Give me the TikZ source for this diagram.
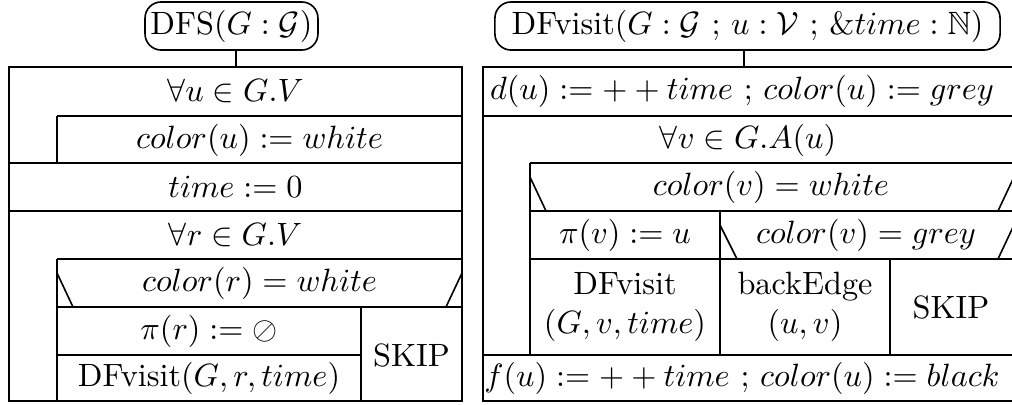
\documentclass[tikz,border=0pt]{standalone}
\usepackage{amssymb}
\begin{document}
\begin{tikzpicture}[x=0.31pt,y=-0.31pt,line width=0.5pt,
  title/.style={draw,rounded corners=5pt,minimum height=14.9pt,inner sep=1.5pt},
  cell/.style={inner sep=0pt,align=center}]
\useasboundingbox (0,0) rectangle (1012,405);
% ---------- left structogram ----------
\node[title,minimum width=53.6pt] (t1) at (231.5,26) {DFS$(G:\mathcal{G})$};
\coordinate (c1) at (236,67);
\draw (t1.south -| c1) -- (c1);
\draw (9,67) rectangle (462,401);
\draw (57,116) -- (462,116);
\draw (57,116) -- (57,163);
\draw (9,163) -- (462,163);
\draw (9,211) -- (462,211);
\draw (57,259) -- (462,259);
\draw (57,259) -- (57,401);
\draw (57,307) -- (462,307);
\draw (57,355) -- (361,355);
\draw (361,307) -- (361,401);
\draw (57,273) -- (73,307);
\draw (462,273) -- (446,307);
\node[cell] (l1) at (235.5,91) {$\forall u \in G.V$};
\node[cell] (l2) at (259.5,140) {$color(u) := white$};
\node[cell] (l3) at (235.5,187) {$time := 0$};
\node[cell] (l4) at (235.5,235) {$\forall r \in G.V$};
\node[cell] (l5) at (259.5,283) {$color(r) = white$};
\node[cell] (l6) at (209,331) {$\pi(r) := \oslash$};
\node[cell] (l7) at (209,378) {DFvisit$(G,r,time)$};
\node[cell] (l8) at (411.5,355) {SKIP};
% ---------- right structogram ----------
\node[title,minimum width=156.6pt] (t2) at (747.5,26) {DFvisit$(G:\mathcal{G}$ ; $u:\mathcal{V}$ ; $\&time:\mathbb{N})$};
\coordinate (c2) at (744,67);
\draw (t2.south -| c2) -- (c2);
\draw (483,67) rectangle (1014,401);
\draw (483,116) -- (1014,116);
\draw (530,163) -- (1014,163);
\draw (530,211) -- (1014,211);
\draw (530,259) -- (1014,259);
\draw (483,355) -- (1014,355);
\draw (530,163) -- (530,355);
\draw (720,211) -- (720,355);
\draw (890,259) -- (890,355);
\draw (530,177) -- (546,211);
\draw (1014,177) -- (998,211);
\draw (720,225) -- (737,259);
\draw (1014,225) -- (998,259);
\node[cell] (r1) at (742,91) {$d(u) := ++time$ ; $color(u) := grey$};
\node[cell] (r2) at (748,140) {$\forall v \in G.A(u)$};
\node[cell] (r3) at (771,187) {$color(v) = white$};
\node[cell] (r4) at (625,235) {$\pi(v) := u$};
\node[cell] (r5) at (866,235) {$color(v) = grey$};
\node[cell] (r6) at (625,307) {DFvisit\\$(G,v,time)$};
\node[cell] (r7) at (805,307) {backEdge\\$(u,v)$};
\node[cell] (r8) at (951,307) {SKIP};
\node[cell] (r9) at (742,378) {$f(u) := ++time$ ; $color(u) := black$};
\end{tikzpicture}
\end{document}
